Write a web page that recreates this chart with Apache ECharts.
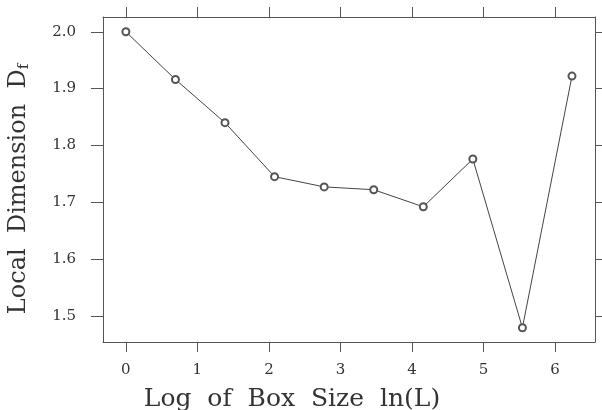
<!DOCTYPE html>
<html>
<head>
<meta charset="utf-8">
<script src="https://cdn.jsdelivr.net/npm/echarts@6/dist/echarts.min.js"></script>
<style>
  html, body { margin: 0; padding: 0; background: #fff; }
  #chart { width: 602px; height: 410px; }
</style>
</head>
<body>
<div id="chart"></div>
<script>
// box size L = 1,2,4,...,512 -> ln(L)
var lnL = [0, 0.693, 1.386, 2.079, 2.773, 3.466, 4.159, 4.852, 5.545, 6.238];
var localDim = [2.000, 1.916, 1.840, 1.745, 1.727, 1.722, 1.692, 1.776, 1.479, 1.922];
var xTicks = [0, 1, 2, 3, 4, 5, 6];
var yTicks = [1.5, 1.6, 1.7, 1.8, 1.9, 2.0];

var chart = echarts.init(document.getElementById('chart'));
var font = '"DejaVu Serif", "Liberation Serif", serif';
var lineCol = '#555';

var points = lnL.map(function (x, i) { return [x, localDim[i]]; });

function xAxisOpt(pos, showLabel) {
    return {
        type: 'value',
        position: pos,
        min: -0.32,
        max: 6.56,
        splitLine: { show: false },
        axisLine: { show: true, onZero: false, lineStyle: { color: lineCol, width: 1 } },
        axisTick: { show: true, inside: false, length: 10, customValues: xTicks,
            lineStyle: { color: lineCol, width: 1 } },
        axisLabel: { show: showLabel, customValues: xTicks, margin: 21,
            fontFamily: font, fontSize: 15, color: '#333' }
    };
}
function yAxisOpt(pos, showLabel) {
    return {
        type: 'value',
        position: pos,
        min: 1.454,
        max: 2.026,
        splitLine: { show: false },
        axisLine: { show: true, onZero: false, lineStyle: { color: lineCol, width: 1 } },
        axisTick: { show: true, inside: false, length: pos === 'left' ? 12 : 8, customValues: yTicks,
            lineStyle: { color: lineCol, width: 1 } },
        axisLabel: { show: showLabel, customValues: yTicks, margin: 27,
            fontFamily: font, fontSize: 15, color: '#333',
            formatter: function (v) { return v.toFixed(1); } }
    };
}

var option = {
    animation: false,
    backgroundColor: '#fff',
    grid: { left: 103, right: 7, top: 17, bottom: 68 },
    xAxis: [xAxisOpt('bottom', true), xAxisOpt('top', false)],
    yAxis: [yAxisOpt('left', true), yAxisOpt('right', false)],
    series: [{
        type: 'line',
        data: points,
        symbol: 'emptyCircle',
        symbolSize: 7,
        lineStyle: { color: '#444', width: 1 },
        itemStyle: { color: '#555', borderWidth: 1 }
    }],
    graphic: [
        {
            type: 'text',
            x: 292, y: 399,
            style: {
                text: 'Log  of  Box  Size  ln(L)',
                fontFamily: font, fontSize: 25, fill: '#333',
                align: 'center', verticalAlign: 'middle'
            }
        },
        {
            type: 'text',
            x: 19, y: 189,
            rotation: Math.PI / 2,
            style: {
                text: '{a|Local  Dimension  D}{s|f}',
                align: 'center', verticalAlign: 'middle',
                rich: {
                    a: { fontFamily: font, fontSize: 24, fill: '#333', color: '#333' },
                    s: { fontFamily: font, fontSize: 15, fill: '#333', color: '#333',
                        verticalAlign: 'bottom', padding: [10, 0, 0, 0] }
                }
            }
        }
    ]
};
chart.setOption(option);
</script>
</body>
</html>
